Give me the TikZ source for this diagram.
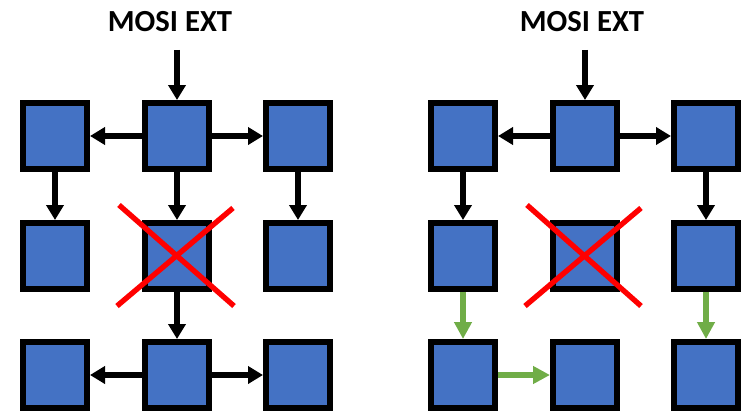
\documentclass[tikz,border=0pt]{standalone}
\usepackage{fontspec}
\setmainfont{Carlito}
\usetikzlibrary{arrows.meta,calc}
\definecolor{cellblue}{HTML}{4472C4}
\definecolor{pathgreen}{HTML}{70AD47}
\definecolor{failred}{HTML}{FF0000}
\tikzset{
  cell/.style={draw=black, fill=cellblue, line width=4.5pt, inner sep=0pt,
    minimum width=48pt, minimum height=49.5pt},
  link/.style={draw=black, line width=4.5pt,
    -{Triangle[length=11.25pt,width=12.75pt]}},
  detour/.style={draw=pathgreen, line width=4.5pt,
    -{Triangle[length=12.75pt,width=12.75pt]}},
  cross/.style={draw=failred, line width=4pt},
  title/.style={font=\bfseries\fontsize{23pt}{27pt}\selectfont, inner sep=0pt}
}
\begin{document}
\begin{tikzpicture}[x=0.75pt, y=-0.75pt]
\useasboundingbox (0,0) rectangle (748,410);

% ---- left grid: full tree around the faulty node ----
\node[title] (Ltitle) at (170,22) {MOSI EXT};
\coordinate (Lin) at (177,50);
\foreach \c/\x in {1/55,2/177,3/298}
  \foreach \r/\y in {1/136,2/256,3/375}
    \node[cell] (L\r\c) at (\x,\y) {};
\draw[link] (Lin) -- (L12);
\draw[link] (L12) -- (L11);
\draw[link] (L12) -- (L13);
\draw[link] (L11) -- (L21);
\draw[link] (L12) -- (L22);
\draw[link] (L13) -- (L23);
\draw[link] (L22) -- (L32);
\draw[link] (L32) -- (L31);
\draw[link] (L32) -- (L33);
\draw[cross] ($(L22)+(-58,-51)$) -- ($(L22)+(57,50)$);
\draw[cross] ($(L22)+(-60,50)$) -- ($(L22)+(56,-48)$);

% ---- right grid: faulty node bypassed ----
\node[title] (Rtitle) at (582,22) {MOSI EXT};
\coordinate (Rin) at (585,50);
\foreach \c/\x in {1/463,2/585,3/706}
  \foreach \r/\y in {1/136,2/256,3/375}
    \node[cell] (R\r\c) at (\x,\y) {};
\draw[link] (Rin) -- (R12);
\draw[link] (R12) -- (R11);
\draw[link] (R12) -- (R13);
\draw[link] (R11) -- (R21);
\draw[link] (R13) -- (R23);
\draw[detour] (R21) -- (R31);
\draw[detour] (R23) -- (R33);
\draw[detour] (R31) -- (R32);
\draw[cross] ($(R22)+(-58,-51)$) -- ($(R22)+(56,50)$);
\draw[cross] ($(R22)+(-60,50)$) -- ($(R22)+(56,-48)$);
\end{tikzpicture}
\end{document}
